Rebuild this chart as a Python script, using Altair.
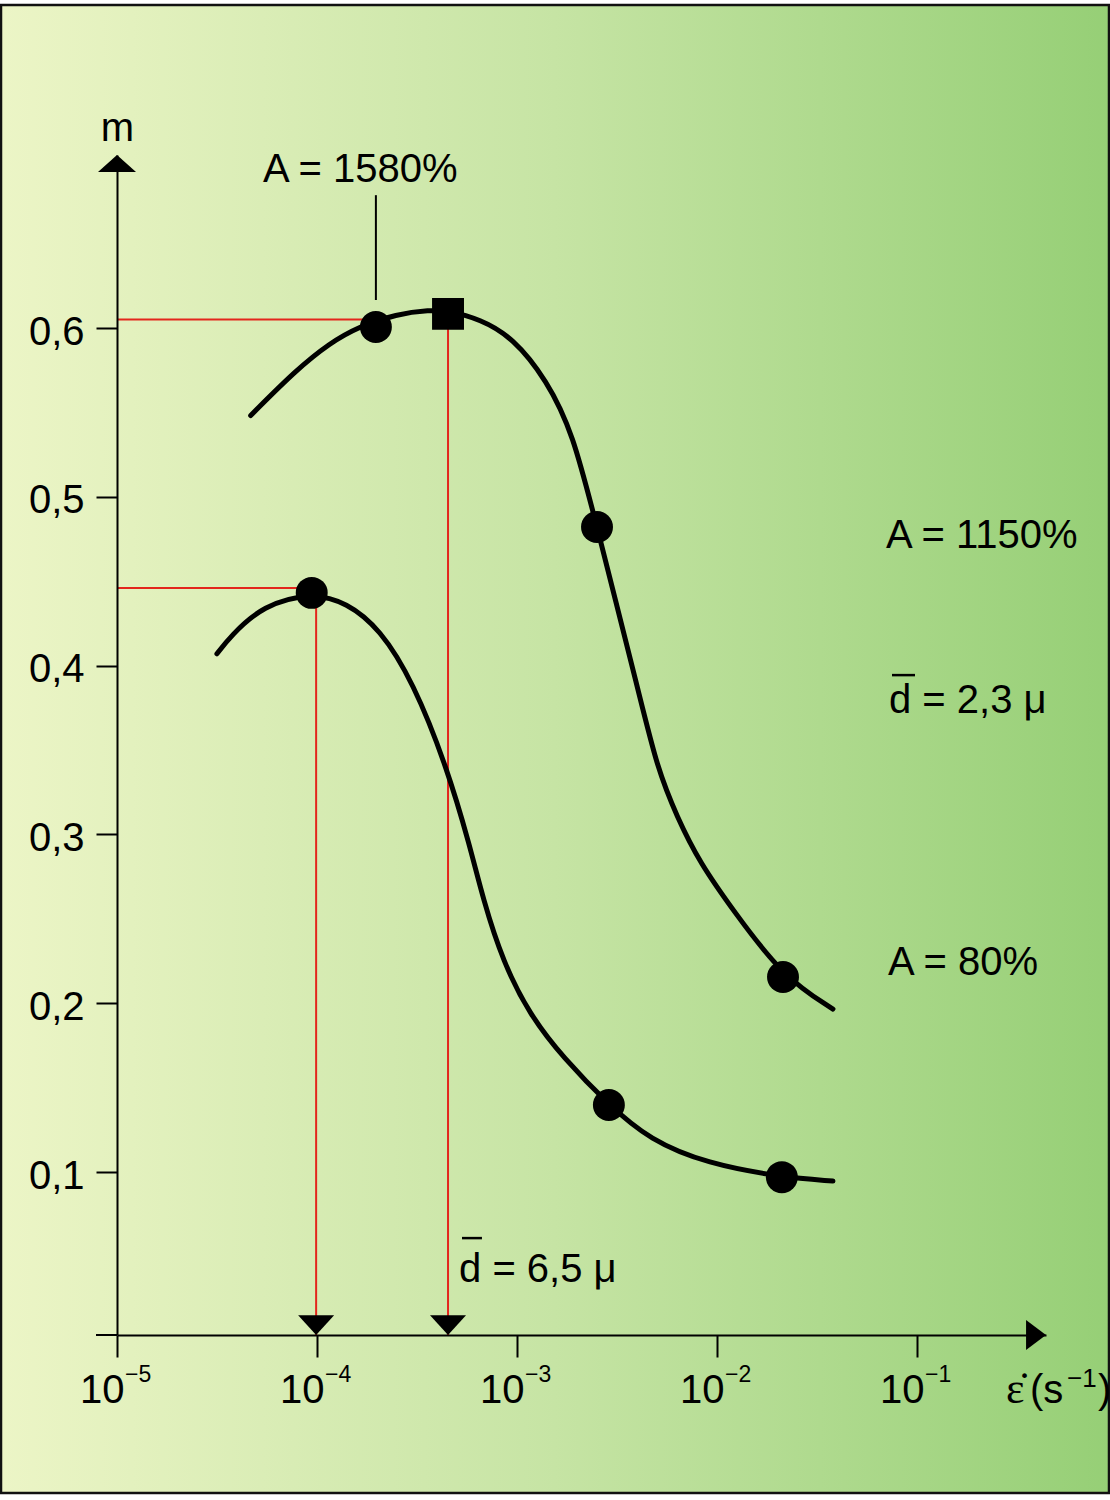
import altair as alt
import pandas as pd

# ---------------- data ----------------
# upper curve  (A = 1150 %, d = 2,3 µ)
upper_rate = [4.66e-5, 7.92e-5, 1.161e-4, 1.603e-4, 2.503e-4, 3.67e-4, 4.52e-4, 6.53e-4,
              9.55e-4, 1.408e-3, 1.905e-3, 2.512e-3, 4.12e-3, 5.01e-3, 6.31e-3, 8.22e-3,
              1.202e-2, 2.138e-2, 3.80e-2]
upper_m = [0.5482, 0.5755, 0.5911, 0.6006, 0.6083, 0.6107, 0.6101, 0.6054,
           0.5943, 0.5692, 0.5378, 0.4821, 0.3814, 0.3399, 0.3103, 0.2831,
           0.2552, 0.2156, 0.1966]

# lower curve  (A = 80 %, d = 6,5 µ)
lower_rate = [3.16e-5, 3.67e-5, 5.37e-5, 9.41e-5, 1.408e-4, 2.065e-4, 3.02e-4, 4.45e-4,
              5.82e-4, 6.76e-4, 8.51e-4, 1.161e-3, 1.70e-3, 2.88e-3, 4.62e-3, 8.91e-3,
              2.11e-2, 3.80e-2]
lower_m = [0.407, 0.4171, 0.4359, 0.4431, 0.4375, 0.4218, 0.3905, 0.3403,
           0.2931, 0.2618, 0.2244, 0.1930, 0.1678, 0.1397, 0.119, 0.105,
           0.097, 0.0947]

# measured points
circle_rate = [1.97e-4, 2.512e-3, 2.138e-2, 9.41e-5, 2.88e-3, 2.11e-2]
circle_m = [0.6006, 0.4821, 0.2156, 0.4431, 0.1397, 0.097]
square_rate = [4.52e-4]
square_m = [0.6084]

# red reading lines (start rate, end rate, start m, end m)
red_x1 = [1e-5, 4.52e-4, 1e-5, 9.9e-5]
red_x2 = [1.97e-4, 4.52e-4, 9.41e-5, 9.9e-5]
red_y1 = [0.605, 0.6084, 0.446, 0.4431]
red_y2 = [0.605, 0.0035, 0.446, 0.0035]

# axis ticks
x_ticks = [1e-5, 1e-4, 1e-3, 1e-2, 1e-1]
x_exponents = ["\u22125", "\u22124", "\u22123", "\u22122", "\u22121"]
y_ticks = [0.1, 0.2, 0.3, 0.4, 0.5, 0.6]

# annotations
ann_text = ["A = 1580%", "A = 1150%", "d = 2,3 \u03bc", "A = 80%", "d = 6,5 \u03bc"]
ann_rate = [5.37e-5, 0.0700, 0.0724, 0.0716, 5.13e-4]
ann_m = [0.6865, 0.4697, 0.372, 0.2167, 0.0348]

# overbars of the d symbols
bar_x1 = [0.0750, 5.31e-4]
bar_x2 = [0.0977, 6.68e-4]
bar_m = [0.3944, 0.0609]

# leader line for "A = 1580%"
leader_rate = [1.97e-4]
leader_m1 = [0.6787]
leader_m2 = [0.6166]

# arrows
down_arrow_rate = [9.9e-5, 4.52e-4]

# ---------------- scales / axes ----------------
XMIN, XMAX = 1e-5, 10 ** -0.355
YMIN, YMAX = 0.0035, 0.7025
W, H = 929, 1180
FONT = "Liberation Sans"

xs = alt.Scale(type="log", domain=[XMIN, XMAX], nice=False)
ys = alt.Scale(domain=[YMIN, YMAX], nice=False, zero=False)

x_axis = alt.Axis(
    values=x_ticks, labelExpr="'10'", tickSize=22, tickWidth=2, tickColor="black",
    domainColor="black", domainWidth=2, labelFont=FONT, labelFontSize=40,
    labelColor="black", labelAlign="right", labelOffset=7, labelBaseline="top",
    labelPadding=13, title=None, grid=False, zindex=1, labelFlush=False,
    labelOverlap=False,
)
y_axis = alt.Axis(
    values=y_ticks, labelExpr="replace(format(datum.value, '.1f'), '.', ',')",
    tickSize=21, tickWidth=2, tickColor="black", domainColor="black", domainWidth=2,
    labelFont=FONT, labelFontSize=40, labelColor="black", labelPadding=12,
    labelBaseline="middle", labelOffset=4, grid=False, zindex=1,
    title="m", titleAngle=0, titleX=0, titleY=-15, titleAlign="center",
    titleBaseline="alphabetic", titleFont=FONT, titleFontSize=40,
    titleFontWeight="normal", titleColor="black",
)


def X(field):
    return alt.X(field, type="quantitative", scale=xs, axis=x_axis)


def Y(field):
    return alt.Y(field, type="quantitative", scale=ys, axis=y_axis)


one = pd.DataFrame({"a": [0]})

grad = alt.Gradient(
    gradient="linear",
    stops=[alt.GradientStop(color="#ecf5c6", offset=0),
           alt.GradientStop(color="#c6e4a4", offset=0.5),
           alt.GradientStop(color="#96cf76", offset=1)],
    x1=0, x2=1, y1=0, y2=0,
)

bg = alt.Chart(one).mark_rect(fill=grad, stroke="#111111", strokeWidth=2.5).encode(
    x=alt.value(-116), x2=alt.value(992), y=alt.value(-150), y2=alt.value(1338)
)

axis_ext = alt.Chart(one).mark_rule(color="black", strokeWidth=2).encode(
    x=alt.value(-21), x2=alt.value(0), y=alt.value(H)
)

red_df = pd.DataFrame({"x": red_x1, "x2": red_x2, "y": red_y1, "y2": red_y2})
red = alt.Chart(red_df).mark_rule(color="#e3261c", strokeWidth=2).encode(
    x=X("x"), x2="x2:Q", y=Y("y"), y2="y2:Q",
)

leader_df = pd.DataFrame({"x": leader_rate, "y": leader_m1, "y2": leader_m2})
leader = alt.Chart(leader_df).mark_rule(color="black", strokeWidth=2).encode(
    x=X("x"), y=Y("y"), y2="y2:Q",
)

bar_df = pd.DataFrame({"x": bar_x1, "x2": bar_x2, "y": bar_m})
bars = alt.Chart(bar_df).mark_rule(color="black", strokeWidth=2.5).encode(
    x=X("x"), x2="x2:Q", y=Y("y"),
)

curves_df = pd.concat([
    pd.DataFrame({"rate": upper_rate, "m": upper_m, "curve": "upper"}),
    pd.DataFrame({"rate": lower_rate, "m": lower_m, "curve": "lower"}),
])
curves = alt.Chart(curves_df).mark_line(
    color="black", strokeWidth=5, interpolate="basis", strokeCap="round"
).encode(x=X("rate"), y=Y("m"), detail="curve:N", order="rate:Q")

pts_df = pd.concat([
    pd.DataFrame({"rate": circle_rate, "m": circle_m, "kind": "circle"}),
    pd.DataFrame({"rate": square_rate, "m": square_m, "kind": "square"}),
])
points = alt.Chart(pts_df).mark_point(filled=True, size=1020, opacity=1, color="black").encode(
    x=X("rate"), y=Y("m"),
    shape=alt.Shape("kind:N", scale=alt.Scale(domain=["circle", "square"],
                                              range=["circle", "square"]), legend=None),
)

down_df = pd.DataFrame({"rate": down_arrow_rate, "m": [YMIN] * len(down_arrow_rate)})
down_arrows = alt.Chart(down_df).mark_point(
    shape="M0,0L-1,-1.1L1,-1.1Z", size=1296, filled=True, opacity=1, color="black", strokeWidth=0
).encode(x=X("rate"), y=Y("m"))

up_arrow = alt.Chart(pd.DataFrame({"rate": [XMIN], "m": [YMAX]})).mark_point(
    shape="M0,0L1,0.9L-1,0.9Z", size=1444, filled=True, opacity=1, color="black", strokeWidth=0
).encode(x=X("rate"), y=Y("m"))

right_arrow = alt.Chart(pd.DataFrame({"rate": [XMAX], "m": [YMIN]})).mark_point(
    shape="M0,0L-1.33,-1L-1.33,1Z", size=900, filled=True, opacity=1, color="black", strokeWidth=0
).encode(x=X("rate"), y=Y("m"))

exp_df = pd.DataFrame({"rate": x_ticks, "m": [YMIN] * len(x_ticks), "t": x_exponents})
exponents = alt.Chart(exp_df).mark_text(
    align="left", baseline="alphabetic", fontSize=23, font=FONT, color="black", dx=8, dy=47
).encode(x=X("rate"), y=Y("m"), text="t:N")

ann_df = pd.DataFrame({"rate": ann_rate, "m": ann_m, "t": ann_text})
annotations = alt.Chart(ann_df).mark_text(
    align="left", baseline="alphabetic", fontSize=40, font=FONT, color="black"
).encode(x=X("rate"), y=Y("m"), text="t:N")

# x-axis title: epsilon-dot (s^-1), built from pieces
title_anchor = pd.DataFrame({"rate": [0.2786], "m": [YMIN]})
title_pieces = [
    ("\u03b5\u0307", "Liberation Serif", 44, "left", 0, 68),
    ("(s", FONT, 40, "left", 24, 68),
    ("\u22121", FONT, 26, "left", 61, 52),
    (")", FONT, 40, "left", 92, 68),
]
title_layers = [
    alt.Chart(title_anchor).mark_text(
        align=al, baseline="alphabetic", text=t, font=f, fontSize=fs,
        dx=dx, dy=dy, color="black"
    ).encode(x=X("rate"), y=Y("m"))
    for t, f, fs, al, dx, dy in title_pieces
]

chart = alt.layer(
    bg, axis_ext, red, leader, bars, curves, points, down_arrows, up_arrow, right_arrow,
    exponents, annotations, *title_layers
).properties(
    width=W, height=H,
    padding={"left": 117, "top": 155, "right": 64, "bottom": 165},
    autosize=alt.AutoSizeParams(type="none"),
).configure_view(stroke=None)

chart.save("out.html", embed_options={"renderer": "svg", "actions": False})
